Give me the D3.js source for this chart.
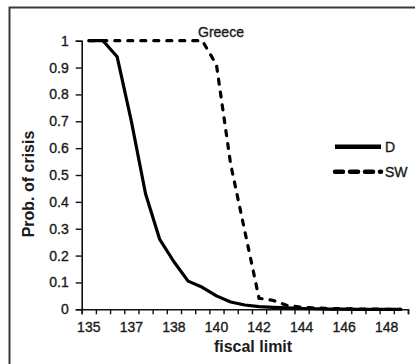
<!DOCTYPE html>
<html>
<head>
<meta charset="utf-8">
<script src="https://cdn.jsdelivr.net/npm/d3@7"></script>
<style>
  html, body { margin: 0; padding: 0; background: #fff; }
  svg { display: block; }
  text { font-family: "Liberation Sans", Arial, sans-serif; fill: #1a1a1a; }
  .small { stroke: #1a1a1a; stroke-width: 0.35px; }
</style>
</head>
<body>
<svg id="chart" width="415" height="364"></svg>
<script>
// ---- data ----
const categories = ["135","","","137","","","138","","","140","","","142","","","144","","","146","","","148",""];
const seriesD  = [1, 1, 0.94, 0.70, 0.43, 0.26, 0.177, 0.105, 0.082, 0.05, 0.027, 0.016, 0.01, 0.007, 0.005, 0.003, 0.002, 0.001, 0.001, 0, 0, 0, 0];
const seriesSW = [1, 1, 1, 1, 1, 1, 1, 1, 1, 0.91, 0.54, 0.29, 0.041, 0.033, 0.014, 0.008, 0.005, 0.003, 0.002, 0.001, 0.001, 0, 0];
const yTicks = [0, 0.1, 0.2, 0.3, 0.4, 0.5, 0.6, 0.7, 0.8, 0.9, 1];
const seriesNames = ["D", "SW"];
const annotation = "Greece";
const xTitle = "fiscal limit";
const yTitle = "Prob. of crisis";

// ---- layout ----
const svg = d3.select("#chart");
const pLeft = 81.7, pRight = 408, pTop = 40.7, pBottom = 309.3;

// frame (cut off at right/bottom as in the reference)
svg.append("rect")
  .attr("x", 9.5).attr("y", 7.5).attr("width", 430).attr("height", 380)
  .attr("fill", "none").attr("stroke", "#3a3a3a").attr("stroke-width", 2);

const idx = categories.map((d, i) => i);
const x = d3.scaleBand().domain(idx).range([pLeft, pRight]).padding(0);
const xEdge = d3.scaleLinear().domain([0, categories.length]).range([pLeft, pRight]);
const y = d3.scaleLinear().domain([0, 1]).range([pBottom, pTop]);
const cx = i => x(i) + x.bandwidth() / 2;

// y axis
const gy = svg.append("g").attr("transform", `translate(${pLeft},0)`)
  .call(d3.axisLeft(y).tickValues(yTicks).tickSize(6).tickPadding(7)
    .tickFormat(d => d === 0 ? "0" : d === 1 ? "1" : d3.format(".1f")(d)));
gy.select(".domain").attr("stroke", "#111").attr("stroke-width", 1.6);
gy.selectAll(".tick line").attr("stroke", "#111").attr("stroke-width", 1.4);
gy.selectAll(".tick text").attr("class", "small").style("font-size", "14px").attr("fill", "#1a1a1a")
  .style("font-family", "'Liberation Sans', Arial, sans-serif");

// x axis: ticks at category boundaries
const gx = svg.append("g").attr("transform", `translate(0,${pBottom})`)
  .call(d3.axisBottom(xEdge).tickValues(d3.range(categories.length + 1)).tickSize(5).tickFormat(""));
gx.select(".domain").attr("stroke", "#111").attr("stroke-width", 1.6);
gx.selectAll(".tick line").attr("stroke", "#111").attr("stroke-width", 1.4);

// x labels at category centers
const gxl = svg.append("g").attr("transform", `translate(0,${pBottom})`)
  .call(d3.axisBottom(x).tickValues(idx.filter(i => categories[i] !== "")).tickSize(0).tickPadding(13)
    .tickFormat(i => categories[i]));
gxl.select(".domain").remove();
gxl.selectAll(".tick text").attr("class", "small").style("font-size", "14px").attr("fill", "#1a1a1a")
  .style("font-family", "'Liberation Sans', Arial, sans-serif");

// lines
const line = d3.line().x((d, i) => cx(i)).y(d => y(d));
svg.append("path").datum(seriesD).attr("d", line)
  .attr("fill", "none").attr("stroke", "#000").attr("stroke-width", 3.2)
  .attr("stroke-linejoin", "round");
svg.append("path").datum(seriesSW).attr("d", line)
  .attr("fill", "none").attr("stroke", "#000").attr("stroke-width", 3.2)
  .attr("stroke-dasharray", "5,8").attr("stroke-linecap", "round");

// annotation
svg.append("text").attr("class", "small").attr("x", 221).attr("y", 36.5).attr("text-anchor", "middle")
  .style("font-size", "14px").text(annotation);

// legend
const lg = svg.append("g");
const legendRows = [{ name: seriesNames[0], dash: null, y: 146.7 }, { name: seriesNames[1], dash: "8,7", y: 171.7 }];
legendRows.forEach(r => {
  const l = lg.append("line").attr("x1", 335).attr("x2", 381).attr("y1", r.y).attr("y2", r.y)
    .attr("stroke", "#000").attr("stroke-width", 4.5);
  if (r.dash) l.attr("stroke-dasharray", r.dash).attr("stroke-linecap", "round");
  lg.append("text").attr("class", "small").attr("x", 385).attr("y", r.y + 5).style("font-size", "14px").text(r.name);
});

// axis titles
svg.append("text").attr("x", 253).attr("y", 351.7).attr("text-anchor", "middle")
  .style("font-size", "16px").style("font-weight", "bold").text(xTitle);
svg.append("text").attr("transform", "translate(34,184) rotate(-90)").attr("text-anchor", "middle")
  .style("font-size", "16px").style("font-weight", "bold").text(yTitle);
</script>
</body>
</html>
